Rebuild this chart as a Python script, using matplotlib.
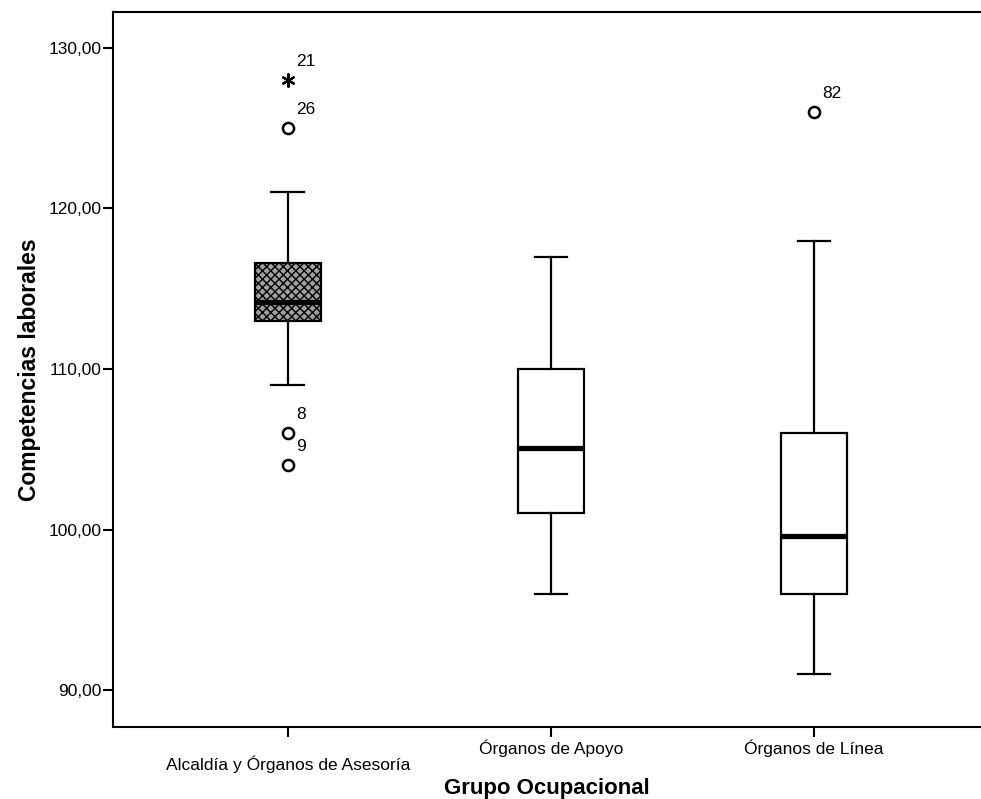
import matplotlib.pyplot as plt
from matplotlib.ticker import FixedLocator, FuncFormatter

plt.rcParams['font.family'] = ['Liberation Sans', 'DejaVu Sans']
plt.rcParams['hatch.linewidth'] = 1.0

groups = ['Alcaldía y Órganos de Asesoría', 'Órganos de Apoyo', 'Órganos de Línea']
whislo = [109.0, 96.0, 91.0]
q1 = [113.0, 101.0, 96.0]
med = [114.2, 105.1, 99.6]
q3 = [116.6, 110.0, 106.0]
whishi = [121.0, 117.0, 118.0]
outliers = [[104.0, 106.0, 125.0], [], [126.0]]
outlier_ids = [['9', '8', '26'], [], ['82']]
extremes = [[128.0], [], []]
extreme_ids = [['21'], [], []]

stats = []
for i in range(len(groups)):
    stats.append(dict(whislo=whislo[i], q1=q1[i], med=med[i], q3=q3[i],
                      whishi=whishi[i], fliers=outliers[i], label=groups[i]))

fig = plt.figure(figsize=(9.81, 7.99), dpi=100)
ax = fig.add_axes([0.1152, 0.0901, 0.8848, 0.8949])

pos = [1, 2, 3]
bp = ax.bxp(stats, positions=pos, widths=0.25, patch_artist=True,
            boxprops=dict(linewidth=1.6, edgecolor='black', facecolor='white'),
            whiskerprops=dict(linewidth=1.6, color='black'),
            capprops=dict(linewidth=1.6, color='black'),
            medianprops=dict(linewidth=3.8, color='black', solid_capstyle='butt'),
            flierprops=dict(marker='o', markersize=8, markerfacecolor='white',
                            markeredgecolor='black', markeredgewidth=1.8))
# first box is the shaded one
bp['boxes'][0].set_facecolor('#a0a0a0')
bp['boxes'][0].set_hatch('xxxx')

for i in range(len(groups)):
    for v, lab in zip(outliers[i], outlier_ids[i]):
        ax.annotate(lab, (pos[i], v), xytext=(6, 8), textcoords='offset points',
                    fontsize=12.5, ha='left', va='bottom')
    for v, lab in zip(extremes[i], extreme_ids[i]):
        ax.plot([pos[i]], [v], marker=(6, 2, 0), markersize=10, color='black',
                markeredgewidth=1.6, linestyle='none')
        ax.annotate(lab, (pos[i], v), xytext=(6, 8), textcoords='offset points',
                    fontsize=12.5, ha='left', va='bottom')

ax.set_xlim(0.335, 3.635)
ax.set_ylim(87.7, 132.24)
ax.yaxis.set_major_locator(FixedLocator([90, 100, 110, 120, 130]))
ax.yaxis.set_major_formatter(FuncFormatter(lambda v, p: f'{v:.2f}'.replace('.', ',')))
ax.set_xticks(pos)
ax.set_xticklabels(groups, fontsize=12.5)
ax.tick_params(axis='y', labelsize=12.5, length=7, width=1.5, pad=1)
ax.tick_params(axis='x', length=7, width=1.5, pad=2)
ax.get_xticklabels()[0].set_y(-0.022)

for s in ['left', 'top', 'bottom']:
    ax.spines[s].set_linewidth(1.5)
ax.spines['right'].set_visible(False)

ax.set_ylabel('Competencias laborales', fontsize=16.5, fontweight='bold', labelpad=6)
ax.set_xlabel('Grupo Ocupacional', fontsize=16, fontweight='bold')
ax.xaxis.set_label_coords(0.5, -0.072)

fig.savefig('out.png', dpi=100)
